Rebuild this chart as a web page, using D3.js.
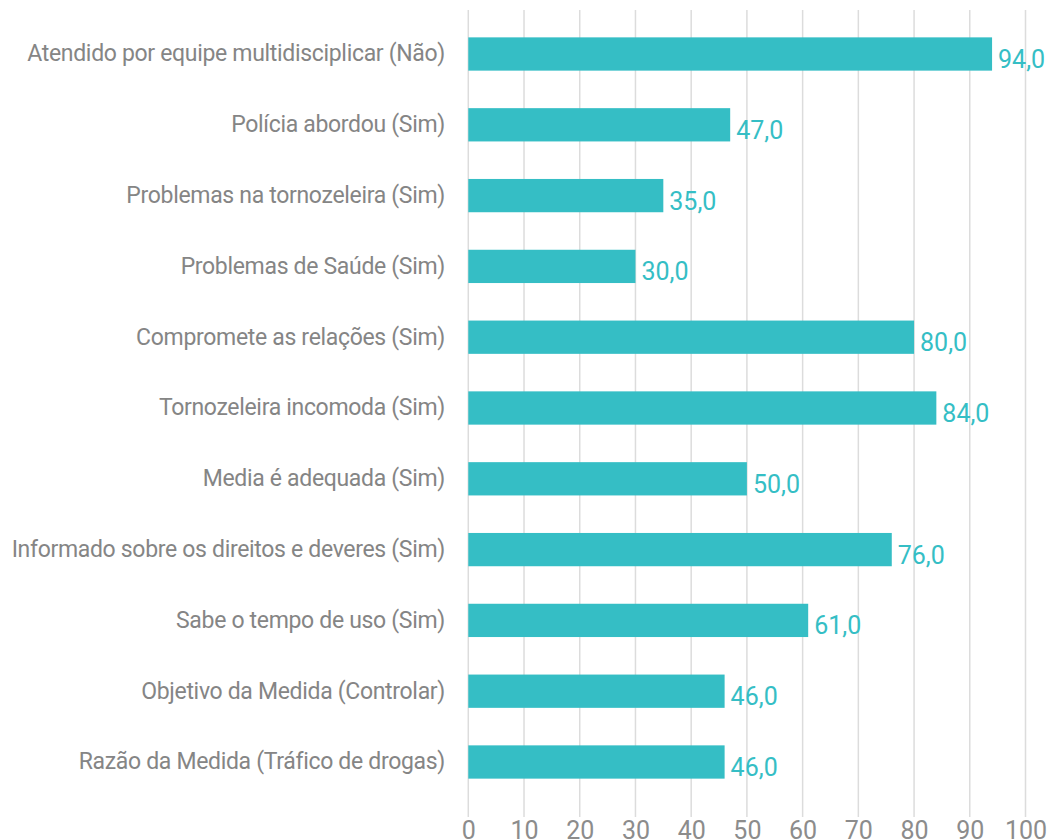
<!DOCTYPE html>
<html>
<head>
<meta charset="utf-8">
<style>
body { margin: 0; background: #fff; }
text { font-family: Roboto, "Noto Sans", sans-serif; }
.grid line { stroke: #dcdcdc; stroke-width: 1.5px; }
.cat { fill: #858585; font-size: 23px; letter-spacing: -0.32px; }
.val { fill: #35bec5; font-size: 25px; }
.tick text { fill: #8c8c8c; font-size: 25px; }
</style>
</head>
<body>
<script src="https://cdn.jsdelivr.net/npm/d3@7/dist/d3.min.js"></script>
<script>
var categories = [
  "Atendido por equipe multidisciplicar (Não)",
  "Polícia abordou (Sim)",
  "Problemas na tornozeleira (Sim)",
  "Problemas de Saúde (Sim)",
  "Compromete as relações (Sim)",
  "Tornozeleira incomoda (Sim)",
  "Media é adequada (Sim)",
  "Informado sobre os direitos e deveres (Sim)",
  "Sabe o tempo de uso (Sim)",
  "Objetivo da Medida (Controlar)",
  "Razão da Medida (Tráfico de drogas)"
];
var values = [94, 47, 35, 30, 80, 84, 50, 76, 61, 46, 46];
var ticks = [0, 10, 20, 30, 40, 50, 60, 70, 80, 90, 100];

var width = 1048, height = 840;

var svg = d3.select("body").append("svg")
    .attr("width", width)
    .attr("height", height);

var x = d3.scaleLinear().domain([0, 100]).range([468.3, 1025.5]);
var y = d3.scaleBand()
    .domain(categories)
    .range([18.6, 797.4])
    .paddingInner(0.53)
    .paddingOuter(0.265);

// gridlines
svg.append("g").attr("class", "grid")
  .selectAll("line")
  .data(ticks)
  .enter().append("line")
    .attr("x1", function(d) { return x(d); })
    .attr("x2", function(d) { return x(d); })
    .attr("y1", 10)
    .attr("y2", 817);

// axis labels
var axis = d3.axisBottom(x).tickValues(ticks).tickSize(0).tickPadding(0)
    .tickFormat(d3.format("d"));
var ga = svg.append("g").attr("transform", "translate(0,821)").call(axis);
ga.select(".domain").remove();
ga.selectAll("text").attr("dy", "0.71em");

// bars
svg.selectAll("rect.bar")
  .data(values)
  .enter().append("rect")
    .attr("class", "bar")
    .attr("x", x(0))
    .attr("y", function(d, i) { return y(categories[i]); })
    .attr("width", function(d) { return x(d) - x(0); })
    .attr("height", y.bandwidth())
    .attr("fill", "#35bec5");

// value labels
svg.selectAll("text.val")
  .data(values)
  .enter().append("text")
    .attr("class", "val")
    .attr("x", function(d) { return x(d) + 6; })
    .attr("y", function(d, i) { return y(categories[i]) + y.bandwidth() / 2; })
    .attr("dy", "0.56em")
    .text(function(d) { return d3.format(".1f")(d).replace(".", ","); });

// category labels
svg.selectAll("text.cat")
  .data(categories)
  .enter().append("text")
    .attr("class", "cat")
    .attr("x", 445)
    .attr("y", function(d) { return y(d) + y.bandwidth() / 2; })
    .attr("dy", "0.32em")
    .attr("text-anchor", "end")
    .text(function(d) { return d; });
</script>
</body>
</html>
